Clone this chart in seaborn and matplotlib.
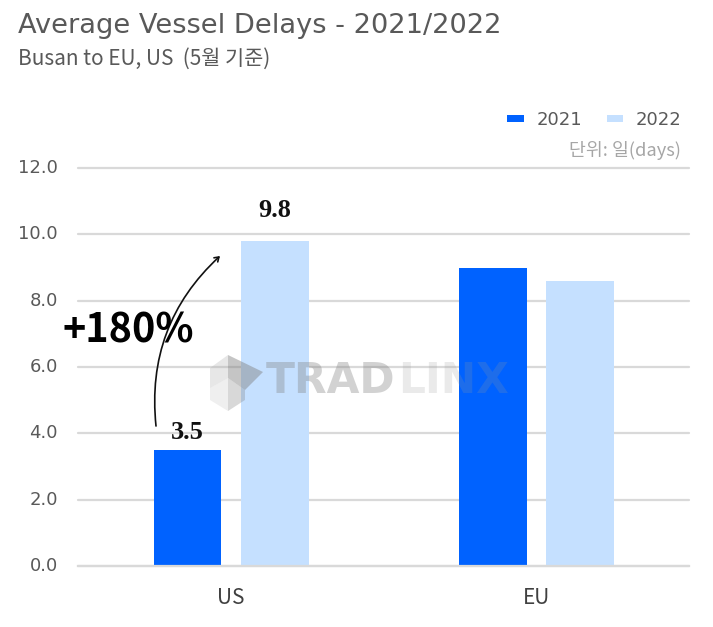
import matplotlib
matplotlib.use('Agg')
import matplotlib.pyplot as plt
from matplotlib.patches import FancyArrowPatch, Polygon
from matplotlib.transforms import ScaledTranslation
import pandas as pd
import seaborn as sns

routes = ['US', 'EU']
years = ['2021', '2022']
delays_2021 = [3.5, 9.0]
delays_2022 = [9.8, 8.6]
y_ticks = [0, 2, 4, 6, 8, 10, 12]
bar_labels_2021 = ['3.5', '']
bar_labels_2022 = ['9.8', '']

W, H = 713, 627

sns.set_theme(style='white')
plt.rcParams['font.family'] = ['Noto Sans CJK KR', 'DejaVu Sans']

df = pd.DataFrame({
    'route': routes * 2,
    'year': [years[0]] * 2 + [years[1]] * 2,
    'delay': delays_2021 + delays_2022,
})


def px(x, y):
    # pixel position in the image -> figure fraction
    return x / W, 1 - y / H


fig = plt.figure(figsize=(W / 100, H / 100), dpi=100, facecolor='white')
ax = fig.add_axes([78 / W, 1 - 566 / H, (689 - 78) / W, (566 - 168) / H])

sns.barplot(data=df, x='route', y='delay', hue='year', order=routes, hue_order=years,
            palette=['#0062ff', '#c5e0ff'], width=0.57, gap=0.22, saturation=1,
            linewidth=0, ax=ax)

ax.set_xlim(-0.501, 1.499)
ax.set_ylim(0, 12)
ax.set_xlabel('')
ax.set_ylabel('')
ax.set_yticks(y_ticks)
ax.set_yticklabels([f'{t:.1f}' for t in y_ticks], family='DejaVu Sans')
ax.tick_params(axis='y', length=0, labelsize=13, labelcolor='#595959', pad=14.4)
ax.tick_params(axis='x', length=0, labelsize=15, labelcolor='#404040', pad=15)
# the tick numbers sit slightly above their grid lines
for lab in ax.get_yticklabels():
    lab.set_transform(lab.get_transform() + ScaledTranslation(0, 2 / 100, fig.dpi_scale_trans))
ax.grid(axis='y', color='#d9d9d9', lw=1.6)
ax.set_axisbelow(True)
for g in ax.get_ygridlines():
    g.set_clip_on(False)
sns.despine(ax=ax, left=True, top=True, right=True)
ax.spines['bottom'].set_color('#d9d9d9')
ax.spines['bottom'].set_linewidth(1.6)

# value labels only on the US bars
for cont, labs, pad in zip(ax.containers, [bar_labels_2021, bar_labels_2022], [4, 14]):
    ax.bar_label(cont, labels=labs, padding=pad, family='Liberation Serif', fontweight='bold',
                 fontsize=19, color='#111111')

sns.move_legend(ax, 'upper left', bbox_to_anchor=(px(491, 0)[0], px(0, 95)[1]),
                bbox_transform=fig.transFigure, ncol=2, frameon=False, title=None,
                labelcolor='#595959', handlelength=0.9, handleheight=0.2,
                columnspacing=1.4, handletextpad=0.7, prop={'family': 'DejaVu Sans', 'size': 13})

# titles
fig.text(*px(18, 26), 'Average Vessel Delays - 2021/2022', fontsize=19.6, color='#595959',
         family='DejaVu Sans', va='center')
fig.text(*px(18, 59), 'Busan to EU, US  (5월 기준)', fontsize=15, color='#595959', va='center')
fig.text(*px(681, 150), '단위: 일(days)', fontsize=13.2, color='#a6a6a6', ha='right', va='center')

# arrow and growth callout
fig.add_artist(FancyArrowPatch(px(156, 426), px(220, 256), transform=fig.transFigure,
                               connectionstyle='arc3,rad=-0.25', arrowstyle='->,head_length=3,head_width=2',
                               shrinkA=0, shrinkB=0, color='#111111', lw=1.2, zorder=5))
fig.text(*px(128, 331), '+180%', fontsize=28.5, fontweight='bold', color='black',
         ha='center', va='center', zorder=6)

# watermark
for pts, col, alpha in [
    ([(210, 368), (228, 355), (228, 378), (210, 388)], '#b0b0b0', 0.3),
    ([(228, 355), (263, 372), (245, 390), (228, 378)], '#7f7f7f', 0.45),
    ([(210, 388), (228, 378), (228, 411), (210, 400)], '#b0b0b0', 0.2),
    ([(228, 378), (245, 390), (245, 400), (228, 411)], '#7f7f7f', 0.3),
]:
    fig.add_artist(Polygon([px(*p) for p in pts], closed=True, transform=fig.transFigure,
                           fc=col, ec='none', alpha=alpha, zorder=4))
fig.text(*px(266, 381), 'TRAD', fontsize=30.5, fontweight='bold', color='#7f7f7f', alpha=0.35,
         family='DejaVu Sans', va='center', zorder=4)
fig.text(*px(398, 381), 'LINX', fontsize=30.5, fontweight='bold', color='#9a9a9a', alpha=0.2,
         family='DejaVu Sans', va='center', zorder=4)

fig.savefig('out.png', dpi=100)
